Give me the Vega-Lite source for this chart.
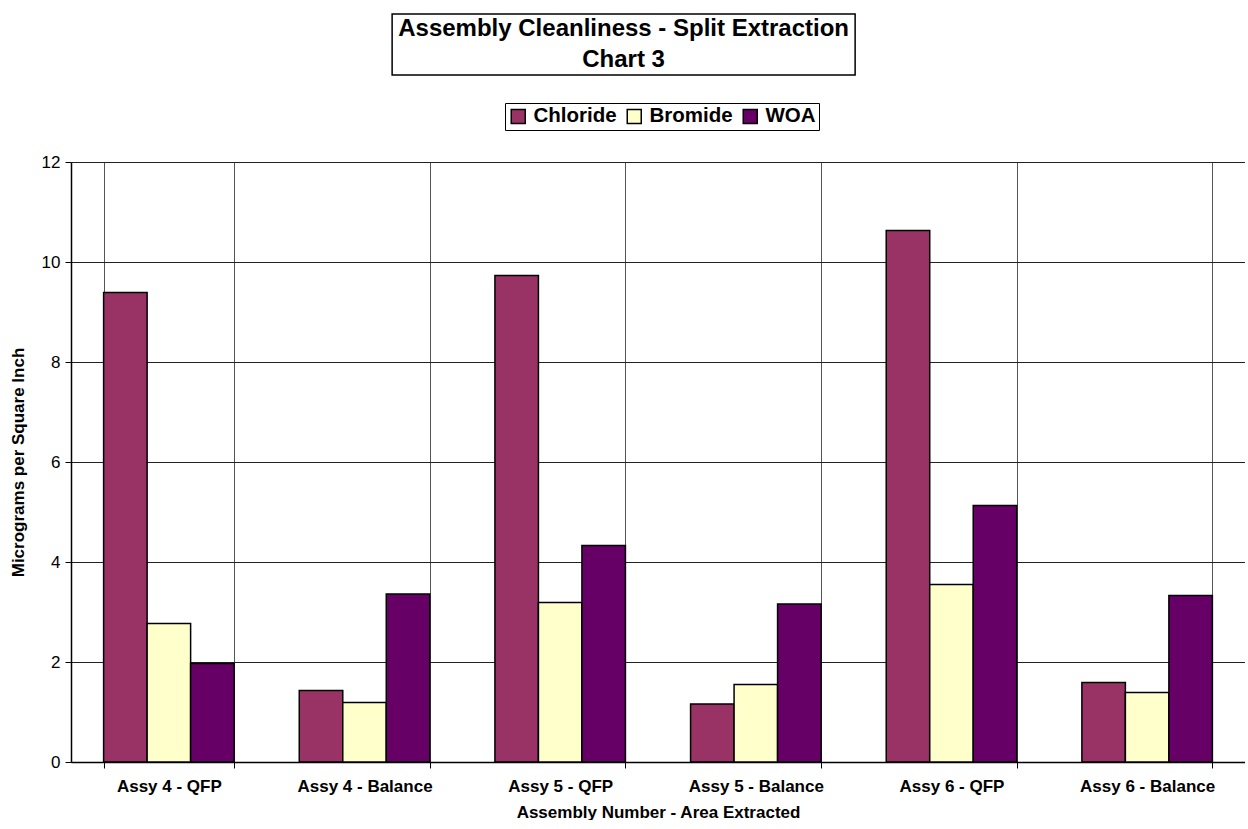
{
  "$schema": "https://vega.github.io/schema/vega-lite/v6.json",
  "padding": {"left": 9, "top": 13, "right": 0, "bottom": 0},
  "background": "white",
  "config": {
    "font": "Liberation Sans",
    "view": {"stroke": null}
  },
  "center": true,
  "spacing": 26,
  "resolve": {"legend": {"color": "independent"}},
  "vconcat": [
    {
      "width": 463,
      "height": 61,
      "view": {"stroke": "black", "strokeWidth": 1.5, "fill": "white"},
      "data": {"values": [
        {"line": "Assembly Cleanliness - Split Extraction", "row": 1},
        {"line": "Chart 3", "row": 2}
      ]},
      "mark": {"type": "text", "font": "Liberation Sans", "fontWeight": "bold", "fontSize": 24, "color": "black", "baseline": "middle"},
      "encoding": {
        "y": {"field": "row", "type": "ordinal", "scale": {"paddingInner": 0, "paddingOuter": 0},
          "axis": {"orient": "right", "domain": false, "ticks": false, "labels": false, "grid": false, "title": ".", "titleColor": "white", "titleFontSize": 20, "titlePadding": 48}
        },
        "text": {"field": "line"}
      }
    },
    {
      "width": 1174,
      "height": 600,
      "data": {"values": [
        {"area": "Assy 4 - QFP", "ion": "Chloride", "value": 9.39},
        {"area": "Assy 4 - QFP", "ion": "Bromide", "value": 2.77},
        {"area": "Assy 4 - QFP", "ion": "WOA", "value": 1.97},
        {"area": "Assy 4 - Balance", "ion": "Chloride", "value": 1.43},
        {"area": "Assy 4 - Balance", "ion": "Bromide", "value": 1.19},
        {"area": "Assy 4 - Balance", "ion": "WOA", "value": 3.36},
        {"area": "Assy 5 - QFP", "ion": "Chloride", "value": 9.73},
        {"area": "Assy 5 - QFP", "ion": "Bromide", "value": 3.19},
        {"area": "Assy 5 - QFP", "ion": "WOA", "value": 4.33},
        {"area": "Assy 5 - Balance", "ion": "Chloride", "value": 1.16},
        {"area": "Assy 5 - Balance", "ion": "Bromide", "value": 1.55},
        {"area": "Assy 5 - Balance", "ion": "WOA", "value": 3.16},
        {"area": "Assy 6 - QFP", "ion": "Chloride", "value": 10.63},
        {"area": "Assy 6 - QFP", "ion": "Bromide", "value": 3.55},
        {"area": "Assy 6 - QFP", "ion": "WOA", "value": 5.13},
        {"area": "Assy 6 - Balance", "ion": "Chloride", "value": 1.59},
        {"area": "Assy 6 - Balance", "ion": "Bromide", "value": 1.39},
        {"area": "Assy 6 - Balance", "ion": "WOA", "value": 3.33}
      ]},
      "mark": {"type": "bar", "stroke": "black", "strokeWidth": 1.5},
      "encoding": {
        "x": {
          "field": "area", "type": "nominal", "sort": null,
          "scale": {"paddingInner": 0.333, "paddingOuter": 0.1667},
          "axis": {
            "title": "Assembly Number - Area Extracted",
            "titleFont": "Liberation Sans", "titleFontSize": 17, "titleFontWeight": "bold", "titleColor": "black", "titlePadding": 10,
            "labelFont": "Liberation Sans", "labelFontSize": 17, "labelFontWeight": "bold", "labelColor": "black", "labelAngle": 0, "labelPadding": 10,
            "grid": true, "gridColor": "#555", "gridWidth": 1, "tickBand": "extent",
            "domainColor": "black", "domainWidth": 1.5, "tickColor": "black", "tickSize": 6
          }
        },
        "xOffset": {"field": "ion", "type": "nominal", "sort": ["Chloride", "Bromide", "WOA"], "scale": {"paddingInner": 0, "paddingOuter": 0}},
        "y": {
          "field": "value", "type": "quantitative",
          "scale": {"domain": [0, 12], "nice": false},
          "axis": {
            "title": "Micrograms per Square Inch",
            "titleFont": "Liberation Sans", "titleFontSize": 17, "titleFontWeight": "bold", "titleColor": "black", "titlePadding": 14,
            "labelFont": "Liberation Sans", "labelFontSize": 17, "labelColor": "black", "labelPadding": 5,
            "values": [0, 2, 4, 6, 8, 10, 12],
            "grid": true, "gridColor": "#222", "gridWidth": 1,
            "domainColor": "black", "domainWidth": 1.5, "tickColor": "black", "tickSize": 6
          }
        },
        "color": {
          "field": "ion", "type": "nominal",
          "scale": {"domain": ["Chloride", "Bromide", "WOA"], "range": ["#993366", "#FFFFCC", "#660066"]},
          "legend": {
            "title": null, "orient": "none", "legendX": 434, "legendY": -59, "direction": "horizontal",
            "strokeColor": "black", "fillColor": "white", "padding": 3,
            "symbolType": "square", "symbolSize": 196, "symbolStrokeColor": "black", "symbolStrokeWidth": 1.5, "symbolOpacity": 1,
            "labelFont": "Liberation Sans", "labelFontSize": 20.5, "labelFontWeight": "bold", "labelColor": "black",
            "labelOffset": 5, "columnPadding": 7
          }
        }
      }
    }
  ]
}
